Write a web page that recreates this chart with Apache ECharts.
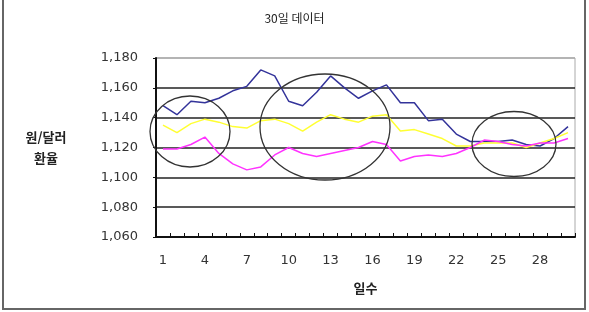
<!DOCTYPE html>
<html>
<head>
<meta charset="utf-8">
<script src="https://cdn.jsdelivr.net/npm/echarts@6/dist/echarts.min.js"></script>
<style>html,body{margin:0;padding:0;background:#fff}#c{width:589px;height:312px}</style>
</head>
<body>
<div id="c"></div>
<script>
var days = [];
for (var d = 1; d <= 30; d++) days.push(String(d));
var blueSeries = [1148,1142,1151,1150,1153,1158,1161,1172,1168,1151,1148,1157,1168,1160,1153,1158,1162,1150,1150,1138,1139,1129,1124,1124,1124,1125,1122,1121,1126,1134];
var yellowSeries = [1135,1130,1136,1139,1137,1134,1133,1138,1139,1136,1131,1137,1142,1139,1137,1141,1142,1131,1132,1129,1126,1121,1121,1123,1123,1123,1120,1123,1126,1130];
var magentaSeries = [1119,1119,1122,1127,1116,1109,1105,1107,1115,1120,1116,1114,1116,1118,1120,1124,1122,1111,1114,1115,1114,1116,1120,1125,1124,1122,1121,1123,1123,1126];
var titleText = '30일 데이터';
var xName = '일수';
var yName = '원/달러\n환율';
var yMin = 1060, yMax = 1180, yStep = 20;

var chart = echarts.init(document.getElementById('c'));
var numFont = 'DejaVu Sans';
var krFont = 'Noto Sans CJK KR';
function mk(data, color) {
  return { type: 'line', data: data, symbol: 'none', smooth: false,
    lineStyle: { color: color, width: 1.5 }, itemStyle: { color: color } };
}
chart.setOption({
  animation: false,
  title: { text: titleText, left: 'center', top: 7,
    textStyle: { fontFamily: krFont, fontSize: 12, fontWeight: 'normal', color: '#222' } },
  grid: { left: 156, right: 14, top: 58, bottom: 75, show: true, borderColor: '#aaa', borderWidth: 1 },
  xAxis: {
    type: 'category', data: days, boundaryGap: true,
    name: xName, nameLocation: 'middle', nameGap: 45,
    nameTextStyle: { fontFamily: krFont, fontSize: 13, fontWeight: 'bold', color: '#222' },
    axisLine: { lineStyle: { color: '#111', width: 2 } },
    axisTick: { show: true, inside: true, length: 4, interval: 0, lineStyle: { color: '#111' } },
    axisLabel: { interval: 2, margin: 17, fontFamily: numFont, fontSize: 13, color: '#333' },
    splitLine: { show: false }
  },
  yAxis: {
    type: 'value', min: yMin, max: yMax, interval: yStep,
    name: yName, nameLocation: 'middle', nameGap: 110, nameRotate: 0,
    nameTextStyle: { fontFamily: krFont, fontSize: 13, fontWeight: 'bold', color: '#222', lineHeight: 21, align: 'center' },
    axisLine: { show: true, lineStyle: { color: '#111', width: 2 } },
    axisTick: { show: true, length: 3, lineStyle: { color: '#111' } },
    axisLabel: { margin: 18, fontFamily: numFont, fontSize: 13, color: '#333',
      formatter: function (v) { return v.toLocaleString('en-US'); } },
    splitLine: { show: true, lineStyle: { color: ['#aaa','#222','#222','#222','#222','#222','#aaa'], width: 1.5 } }
  },
  series: [ mk(blueSeries, '#33339a'), mk(yellowSeries, '#ffff33'), mk(magentaSeries, '#ff33ff') ],
  graphic: [
    { type: 'rect', shape: { x: 3, y: -3, width: 582, height: 312 }, style: { fill: 'none', stroke: '#666', lineWidth: 2 }, z: 100 },
    { type: 'ellipse', shape: { cx: 190, cy: 131.5, rx: 40, ry: 35.5 }, style: { fill: 'none', stroke: '#333', lineWidth: 1.3 }, z: 100 },
    { type: 'ellipse', shape: { cx: 325, cy: 127, rx: 65, ry: 53 }, style: { fill: 'none', stroke: '#333', lineWidth: 1.3 }, z: 100 },
    { type: 'ellipse', shape: { cx: 514, cy: 144, rx: 42, ry: 32.5 }, style: { fill: 'none', stroke: '#333', lineWidth: 1.3 }, z: 100 }
  ]
});
</script>
</body>
</html>
